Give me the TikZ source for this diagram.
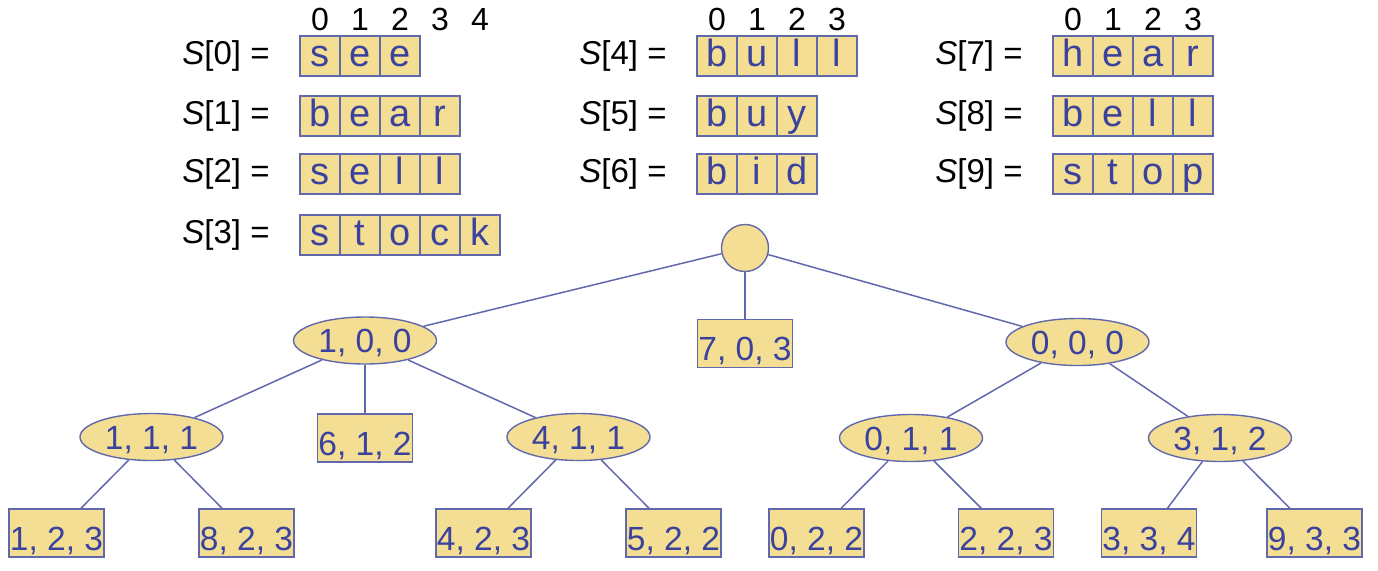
\documentclass[tikz,border=0pt]{standalone}
\usepackage{fontspec}
\setmainfont{Liberation Sans}
\usetikzlibrary{shapes.geometric}
\definecolor{trieyellow}{RGB}{243,222,148}
\definecolor{trieblue}{RGB}{58,66,158}
\definecolor{trieline}{RGB}{98,104,172}

\begin{document}
\begin{tikzpicture}[x=0.5pt,y=-0.5pt,
  cellbox/.style={draw=trieline,fill=trieyellow,text=trieblue,line width=0.7pt,
    minimum width=20pt,minimum height=20pt,inner sep=0pt,
    text height=14pt,text depth=4pt,font=\fontsize{19}{22}\selectfont},
  lab/.style={anchor=east,inner sep=0pt,font=\fontsize{16.5}{20}\selectfont},
  idx/.style={inner sep=0pt,font=\fontsize{16}{19}\selectfont},
  leafbox/.style={rectangle,draw=trieline,fill=trieyellow,text=trieblue,line width=0.7pt,
    minimum width=47.5pt,minimum height=24pt,inner sep=0pt,
    text height=17pt,text depth=0pt,font=\fontsize{16.75}{20}\selectfont},
  trienode/.style={ellipse,draw=trieline,fill=trieyellow,text=trieblue,line width=0.7pt,
    minimum width=71.5pt,minimum height=23.5pt,inner sep=0pt,
    text height=12pt,text depth=0pt,font=\fontsize{16.75}{20}\selectfont},
  link/.style={trieline,line width=0.75pt}]
\useasboundingbox (0,0) rectangle (1378,570);

% the strings S[0..9]
\foreach \n/\x/\y/\w in {0/300/56/{s,e,e},1/300/116/{b,e,a,r},2/300/174/{s,e,l,l},3/300/235/{s,t,o,c,k},
  4/697/56/{b,u,l,l},5/697/116/{b,u,y},6/697/174/{b,i,d},
  7/1053/56/{h,e,a,r},8/1053/116/{b,e,l,l},9/1053/174/{s,t,o,p}} {
  \node[lab] (lab\n) at (\x-30,\y) {\textit{S}[\n] =};
  \foreach \c [count=\k from 0] in \w
    \node[cellbox] (s\n-\k) at (\x+20+40*\k,\y) {\c};
}
% indices
\foreach \k in {0,...,4} \node[idx] (ia-\k) at (320+40*\k,19) {\k};
\foreach \k in {0,...,3} \node[idx] (ib-\k) at (717+40*\k,19) {\k};
\foreach \k in {0,...,3} \node[idx] (ic-\k) at (1073+40*\k,19) {\k};

% the trie
\node[circle,draw=trieline,fill=trieyellow,line width=0.7pt,minimum size=23.5pt,inner sep=0pt] (root) at (745,248) {};
\node[trienode] (n100) at (365,340.5) {1, 0, 0};
\node[leafbox] (n703) at (745,343.5) {7, 0, 3};
\node[trienode] (n000) at (1077.5,342) {0, 0, 0};
\node[trienode] (n111) at (151.5,437) {1, 1, 1};
\node[leafbox] (n612) at (365,438) {6, 1, 2};
\node[trienode] (n411) at (578.5,437) {4, 1, 1};
\node[trienode] (n011) at (911,438) {0, 1, 1};
\node[trienode] (n312) at (1220,438) {3, 1, 2};
\node[leafbox] (n123) at (56.5,533) {1, 2, 3};
\node[leafbox] (n823) at (246.5,533) {8, 2, 3};
\node[leafbox] (n423) at (483.5,533) {4, 2, 3};
\node[leafbox] (n522) at (673.5,533) {5, 2, 2};
\node[leafbox] (n022) at (816.5,533) {0, 2, 2};
\node[leafbox] (n223) at (1006,533) {2, 2, 3};
\node[leafbox] (n334) at (1149,533) {3, 3, 4};
\node[leafbox] (n933) at (1314.5,533) {9, 3, 3};

\foreach \a/\b in {root/n100,root/n703,root/n000,n100/n111,n100/n612,n100/n411,
  n000/n011,n000/n312,n111/n123,n111/n823,n411/n423,n411/n522,
  n011/n022,n011/n223,n312/n334,n312/n933}
  \draw[link] (\a) -- (\b);
\end{tikzpicture}
\end{document}
